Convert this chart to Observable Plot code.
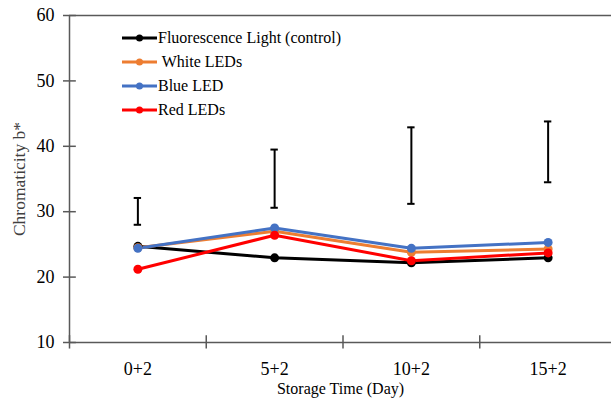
<!DOCTYPE html>
<html>
<head>
<meta charset="utf-8">
<script src="https://cdn.jsdelivr.net/npm/d3@7"></script>
<script src="https://cdn.jsdelivr.net/npm/@observablehq/plot@0.6"></script>
<style>
  html, body { margin: 0; padding: 0; background: #fff; }
  #wrap { position: relative; width: 611px; height: 407px; font-family: "Liberation Serif", "DejaVu Serif", serif; }
  #wrap svg text { font-family: "Liberation Serif", "DejaVu Serif", serif !important; }
  #legend { position: absolute; left: 122px; top: 26px; font-size: 16px; color: #000; }
  .row { display: flex; align-items: center; height: 24px; white-space: pre; }
  .row svg { display: block; margin-right: 1px; }
</style>
</head>
<body>
<div id="wrap"><div id="legend"></div></div>
<script>
const categories = ["0+2", "5+2", "10+2", "15+2"];
const seriesNames = ["Fluorescence Light (control)", " White LEDs", "Blue LED", "Red LEDs"];
const seriesColors = ["#000000", "#ED7D31", "#4472C4", "#FF0000"];
const fluorescence = [24.7, 22.95, 22.2, 22.95];
const whiteLEDs = [24.5, 27.0, 23.8, 24.3];
const blueLED = [24.4, 27.5, 24.4, 25.3];
const redLEDs = [21.2, 26.4, 22.5, 23.7];
const errLow = [28.0, 30.6, 31.2, 34.5];
const errHigh = [32.1, 39.5, 42.9, 43.8];
const yTicks = [10, 20, 30, 40, 50, 60];

const seriesValues = [fluorescence, whiteLEDs, blueLED, redLEDs];
const rows = [];
seriesValues.forEach((vals, s) => vals.forEach((v, i) => rows.push({series: seriesNames[s], x: i + 0.5, y: v})));
const errRows = categories.map((c, i) => ({x: i + 0.5, lo: errLow[i], hi: errHigh[i]}));
const boundaries = categories.map((c, i) => i);
const centers = categories.map((c, i) => i + 0.5);
const axisColor = "#595959";

const chart = Plot.plot({
  width: 611,
  height: 407,
  marginLeft: 69,
  marginTop: 15,
  marginRight: 0,
  marginBottom: 65,
  x: {domain: [0, 4], range: [69, 616]},
  y: {domain: [10, 60]},
  style: {fontFamily: "Liberation Serif", color: "#000", background: "#fff", overflow: "visible"},
  marks: [
    Plot.ruleY([60], {stroke: axisColor, strokeWidth: 1.5}),
    Plot.ruleY([10], {stroke: axisColor, strokeWidth: 1.5}),
    Plot.ruleX([0], {y1: 10, y2: 60, stroke: axisColor, strokeWidth: 1.5}),
    Plot.ruleX(boundaries, {y1: 9.0, y2: 11.05, stroke: axisColor, strokeWidth: 1.5}),
    Plot.ruleY(yTicks, {x1: -0.044, x2: 0.05, stroke: axisColor, strokeWidth: 1.5}),
    Plot.axisY({ticks: yTicks, tickSize: 0, tickPadding: 15, fontSize: 18, label: null, fill: "#000"}),
    Plot.axisX({ticks: centers, tickFormat: d => categories[Math.floor(d)], tickSize: 0, tickPadding: 20, fontSize: 18, label: null, fill: "#000"}),
    Plot.text(["Storage Time (Day)"], {frameAnchor: "bottom", dy: 51, fontSize: 16, fill: "#000"}),
    Plot.text(["Chromaticity b*"], {frameAnchor: "left", textAnchor: "middle", dx: -50, rotate: -90, fontSize: 17.5, fill: "#404040"}),
    Plot.ruleX(errRows, {x: "x", y1: "lo", y2: "hi", stroke: "#000", strokeWidth: 2}),
    Plot.ruleY(errRows, {y: "lo", x1: d => d.x - 0.027, x2: d => d.x + 0.027, stroke: "#000", strokeWidth: 2}),
    Plot.ruleY(errRows, {y: "hi", x1: d => d.x - 0.027, x2: d => d.x + 0.027, stroke: "#000", strokeWidth: 2}),
    ...seriesNames.map((name, s) => Plot.line(rows.filter(d => d.series === name), {x: "x", y: "y", stroke: seriesColors[s], strokeWidth: 3})),
    ...seriesNames.map((name, s) => Plot.dot(rows.filter(d => d.series === name), {x: "x", y: "y", r: 4.5, fill: seriesColors[s], stroke: "none"}))
  ]
});
document.getElementById("wrap").prepend(chart);

const legend = document.getElementById("legend");
seriesNames.forEach((name, s) => {
  const row = document.createElement("div");
  row.className = "row";
  row.innerHTML = `<svg width="35" height="10"><line x1="0" y1="5" x2="35" y2="5" stroke="${seriesColors[s]}" stroke-width="3"/><circle cx="17.5" cy="5" r="3.5" fill="${seriesColors[s]}"/></svg>`;
  const span = document.createElement("span");
  span.textContent = name;
  row.appendChild(span);
  legend.appendChild(row);
});
</script>
</body>
</html>
